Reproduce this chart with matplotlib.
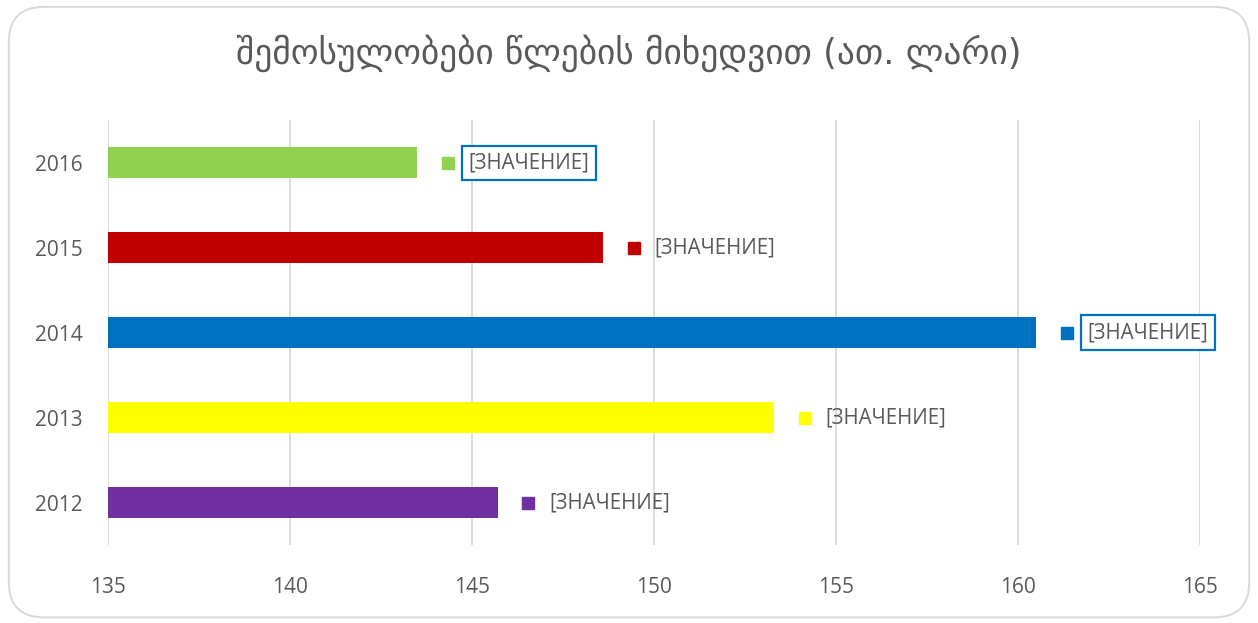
import matplotlib.pyplot as plt
from matplotlib.patches import FancyBboxPatch
from matplotlib.transforms import offset_copy

# data
years = ['2012', '2013', '2014', '2015', '2016']
values = [145.7, 153.3, 160.5, 148.6, 143.5]
colors = ['#7030A0', '#FFFF00', '#0070C0', '#C00000', '#92D050']
boxed = [False, False, True, False, True]
label_text = '[ЗНАЧЕНИЕ]'
title = 'შემოსულობები წლების მიხედვით (ათ. ლარი)'
xticks = [135, 140, 145, 150, 155, 160, 165]

plt.rcParams['font.family'] = ['Open Sans', 'DejaVu Sans']

fig = plt.figure(figsize=(12.58, 6.23), dpi=100)
ax = fig.add_axes([0.0859, 0.1252, 0.8680, 0.6820])

# rounded chart border
fig.patches.append(FancyBboxPatch((0.007, 0.009), 0.986, 0.98,
                                  boxstyle='round,pad=0,rounding_size=0.028',
                                  transform=fig.transFigure, fill=False,
                                  edgecolor='#D9D9D9', linewidth=1.4,
                                  mutation_aspect=1258 / 623))

y = range(len(years))
ax.barh(y, [v - 135 for v in values], left=135, height=0.36, color=colors, zorder=2)

# data labels: little legend key + text
mk_tr = offset_copy(ax.transData, fig=fig, x=22, y=0, units='points')
tx_tr = offset_copy(ax.transData, fig=fig, x=37, y=0, units='points')
for i, v in enumerate(values):
    ax.plot(v, i, marker='s', markersize=8.5, color=colors[i],
            transform=mk_tr, clip_on=False, zorder=3)
    bb = None
    if boxed[i]:
        bb = dict(boxstyle='square,pad=0.32', facecolor='white',
                  edgecolor='#0070C0', linewidth=1.6)
    ax.text(v, i, label_text, transform=tx_tr, va='center', ha='left',
            fontsize=14.8, color='#595959', bbox=bb, clip_on=False, zorder=4)

ax.set_xlim(135, 165)
ax.set_ylim(-0.5, 4.5)
ax.set_xticks(xticks)
ax.set_yticks(list(y))
ax.set_yticklabels(years)
ax.grid(axis='x', color='#D9D9D9', linewidth=1.3, zorder=0)
ax.set_axisbelow(True)
for s in ax.spines.values():
    s.set_visible(False)
ax.tick_params(axis='both', length=0, labelsize=15, labelcolor='#595959')
ax.tick_params(axis='x', pad=23)
ax.tick_params(axis='y', pad=18)

fig.text(0.5, 0.914, title, ha='center', va='center', fontsize=25.5,
         color='#595959', family=['DejaVu Sans'])

fig.savefig('out.png', dpi=100)
